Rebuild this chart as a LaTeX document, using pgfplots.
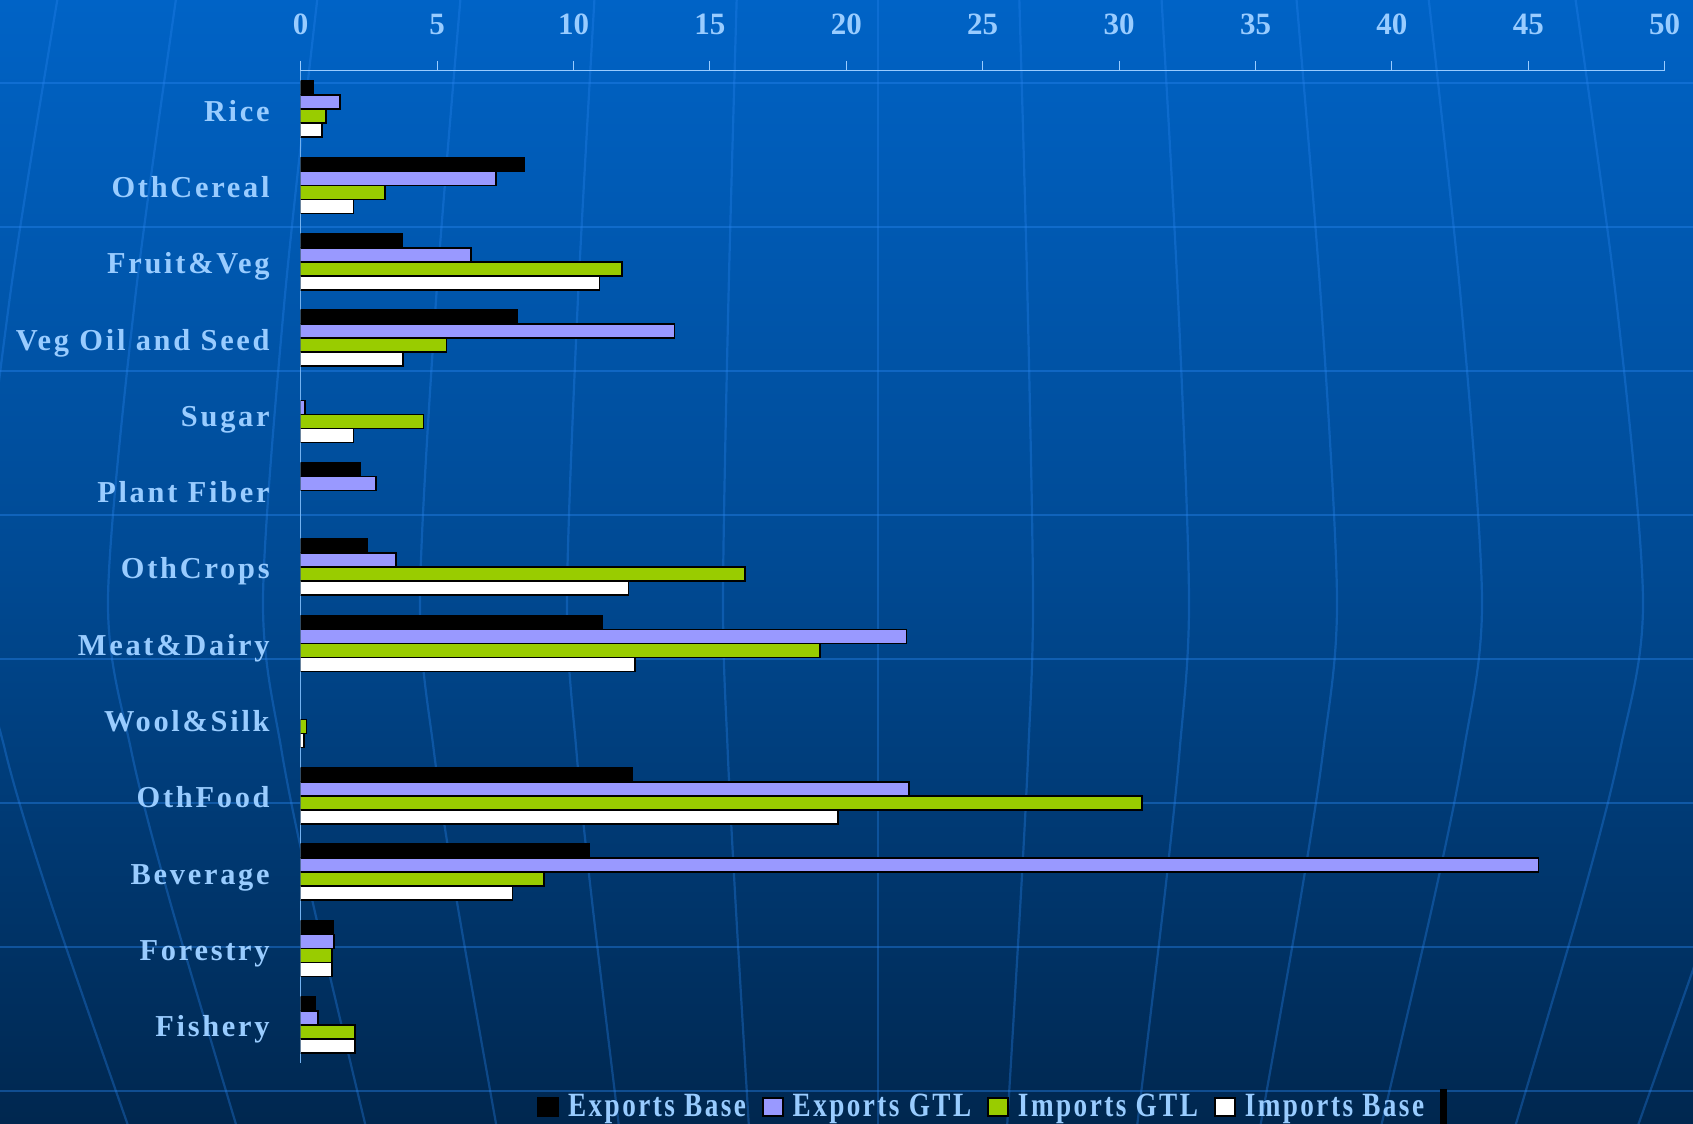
\documentclass[border=0pt]{standalone}
\usepackage{fontspec}
\setmainfont{Liberation Serif}
\newfontfamily\spaced[LetterSpace=9]{Liberation Serif}
\usepackage{graphicx}
\usepackage{pgfplots}
\usepackage{pgfplotstable}
\pgfplotsset{compat=1.18}

\definecolor{bgtop}{HTML}{0063C6}
\definecolor{bgmid}{HTML}{004A94}
\definecolor{bgbot}{HTML}{00274F}
\definecolor{gridblue}{HTML}{2A86F0}
\definecolor{labelblue}{HTML}{99CCFF}
\definecolor{exgtl}{HTML}{9999FF}
\definecolor{imgtl}{HTML}{99CC00}

% Trade shares by sector; pos 12 = Rice (top) ... 0 = Fishery (bottom)
\pgfplotstableread{
pos EB    EGTL  IGTL  IB
12  0.46  1.44  0.93  0.77
11  8.20  7.17  3.10  1.93
10  3.71  6.25  11.78 10.95
9   7.95  13.70 5.34  3.76
8   nan   0.16  4.50  1.93
7   2.18  2.76  nan   nan
6   2.44  3.49  16.28 12.02
5   11.05 22.20 19.04 12.26
4   nan   nan   0.21  0.13
3   12.15 22.30 30.83 19.69
2   10.56 45.38 8.92  7.76
1   1.18  1.23  1.15  1.15
0   0.52  0.64  1.98  1.98
}\sharedata

\newcommand{\legtext}[1]{\hspace{2.5pt}\scalebox{0.8}[1]{#1}}

\begin{document}
\begin{tikzpicture}
\useasboundingbox (0,0) rectangle (846.5pt,562pt);
\clip (0,0) rectangle (846.5pt,562pt);
\shade[top color=bgtop, bottom color=bgbot, middle color=bgmid] (0,0) rectangle (846.5pt,562pt);
% globe grid behind the chart
\begin{scope}[x=0.5pt,y=-0.5pt,shift={(0pt,562pt)}]
  \foreach \yy in {83,227,...,1091}
    \draw[gridblue, opacity=0.4, line width=1.1pt] (0,\yy) -- (1693,\yy);
  \foreach \d in {-1060,-900,-770,-615,-458,-311,-155,0,155,311,459,604,765,912,1060}
    \draw[gridblue, opacity=0.33, line width=1.1pt] plot[smooth] coordinates
      {({878+\d*0.91},-10) ({878+\d*0.965},300) ({878+\d},600) ({878+\d*0.97},750) ({878+\d*0.92},900) ({878+\d*0.83},1134)};
  \fill[black] (1440,1089) rectangle (1447,1130);
\end{scope}

\begin{axis}[
  at={(150.35pt,30.5pt)}, anchor=south west,
  scale only axis, width=682pt, height=496pt,
  xbar, bar width=7pt,
  xmin=0, xmax=50, ymin=-0.5, ymax=12.5,
  axis x line=top, axis y line=left,
  axis line style={-},
  x axis line style={draw=labelblue, line width=0.5pt},
  y axis line style={draw=labelblue!75!bgtop, line width=0.7pt},
  xtick={0,5,...,50},
  xticklabels={0,5,10,15,20,25,30,35,40,45,50},
  tick align=outside,
  major tick length=5pt,
  x tick style={draw=labelblue, line width=0.5pt},
  ytick={0,...,12},
  yticklabels={Fishery,Forestry,Beverage,OthFood,Wool\&Silk,Meat\&Dairy,OthCrops,Plant Fiber,Sugar,Veg Oil and Seed,Fruit\&Veg,OthCereal,Rice},
  y tick style={draw=none},
  xticklabel style={font=\bfseries\fontsize{15.5}{15.5}\selectfont, text=labelblue, yshift=9.5pt},
  yticklabel style={font=\spaced\bfseries\fontsize{15.2}{15.2}\selectfont, text=labelblue,
    anchor=east, text height=10pt, text depth=0pt, xshift=-7pt, yshift=-1pt},
  unbounded coords=discard,
  legend style={at={(0.5,-0.0444)}, anchor=center, draw=none, fill=none,
    font=\spaced\bfseries\fontsize{17}{17}\selectfont, text=labelblue,
    /tikz/every even column/.append style={column sep=6pt}},
  legend columns=4,
  legend image code/.code={\draw[#1, line width=0.9pt] (0pt,-4.5pt) rectangle (10pt,4.5pt);},
]
\addplot[fill=black, draw=black, line width=0.8pt, bar shift=10.5pt] table[x=EB, y=pos] {\sharedata};
\addplot[fill=exgtl, draw=black, line width=0.8pt, bar shift=3.5pt] table[x=EGTL, y=pos] {\sharedata};
\addplot[fill=imgtl, draw=black, line width=0.8pt, bar shift=-3.5pt] table[x=IGTL, y=pos] {\sharedata};
\addplot[fill=white, draw=black, line width=0.8pt, bar shift=-10.5pt] table[x=IB, y=pos] {\sharedata};
\addlegendentry{\legtext{Exports Base}}
\addlegendentry{\legtext{Exports GTL}}
\addlegendentry{\legtext{Imports GTL}}
\addlegendentry{\legtext{Imports Base}}
\end{axis}
\end{tikzpicture}
\end{document}
